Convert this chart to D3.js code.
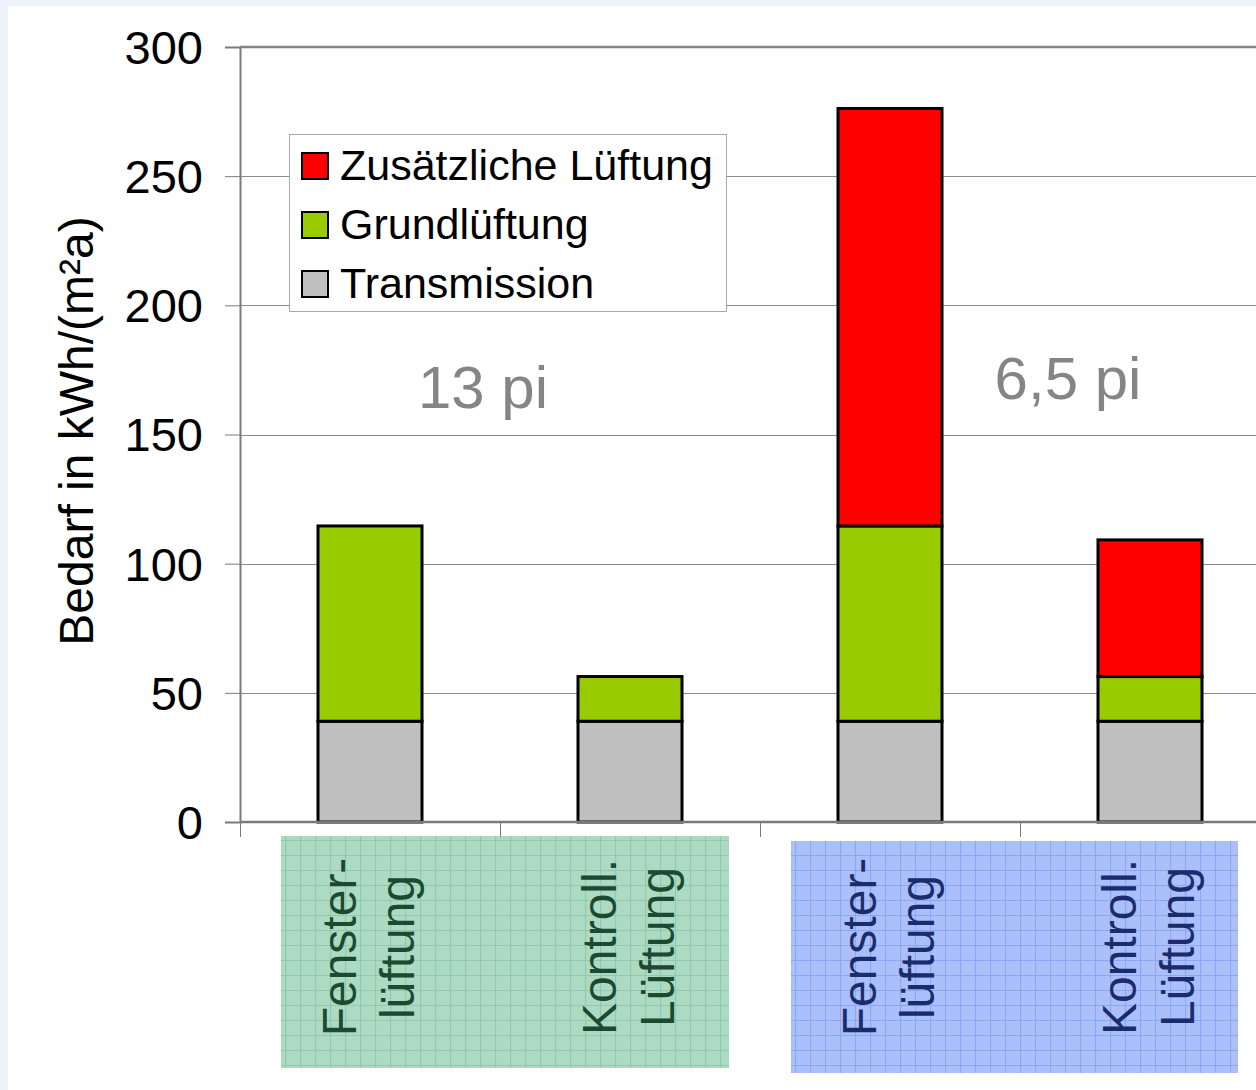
<!DOCTYPE html>
<html>
<head>
<meta charset="utf-8">
<script src="https://cdn.jsdelivr.net/npm/d3@7"></script>
<style>
  html, body { margin: 0; padding: 0; background: #ffffff; }
  svg { display: block; font-family: "Liberation Sans", Arial, sans-serif; }
</style>
</head>
<body>
<svg id="chart" width="1256" height="1090"></svg>
<script>
// Heating demand per case, stacked by component (kWh/(m²a))
const categoryLines = [["Fenster-", "lüftung"], ["Kontroll.", "Lüftung"], ["Fenster-", "lüftung"], ["Kontroll.", "Lüftung"]];
const groupNames = ["13 pi", "6,5 pi"];
const groupOfCategory = [0, 0, 1, 1];
const seriesNames = ["Transmission", "Grundlüftung", "Zusätzliche Lüftung"];
const seriesColors = ["#c0c0c0", "#99cc00", "#ff0000"];
const transmission = [39, 39, 39, 39];
const grundlueftung = [75.6, 17.3, 75.6, 17.3];
const zusaetzlich = [0, 0, 161.6, 52.9];
const yTicks = [0, 50, 100, 150, 200, 250, 300];
const legendOrder = ["Zusätzliche Lüftung", "Grundlüftung", "Transmission"];

const rows = categoryLines.map((c, i) => ({
  idx: i,
  "Transmission": transmission[i],
  "Grundlüftung": grundlueftung[i],
  "Zusätzliche Lüftung": zusaetzlich[i]
}));

const svg = d3.select("#chart");
const W = 1256, H = 1090;

// page background with faint tinted border
svg.append("rect").attr("width", W).attr("height", H).attr("fill", "#eef2fa");
svg.append("rect").attr("x", 8).attr("y", 6).attr("width", W - 8).attr("height", H - 6).attr("fill", "#ffffff");

const plot = { left: 240, top: 47, right: 1280, bottom: 822 };

const x = d3.scaleBand()
  .domain(d3.range(categoryLines.length))
  .range([plot.left, plot.right])
  .paddingInner(0.6)
  .paddingOuter(0.3);

const y = d3.scaleLinear().domain([0, 300]).range([plot.bottom, plot.top]);

const color = d3.scaleOrdinal().domain(seriesNames).range(seriesColors);

// label panels below the axis
const defs = svg.append("defs");
function gridPattern(id, fill, line) {
  const p = defs.append("pattern").attr("id", id)
    .attr("patternUnits", "userSpaceOnUse").attr("width", 15).attr("height", 15);
  p.append("rect").attr("width", 15).attr("height", 15).attr("fill", fill);
  p.append("path").attr("d", "M0.5 0 V15 M0 0.5 H15")
    .attr("stroke", line).attr("stroke-width", 1.2).attr("fill", "none");
}
gridPattern("gridGreen", "#acdac3", "#90c9ad");
gridPattern("gridBlue", "#abc0fb", "#8aa7f5");

const panels = [
  { x0: 281, y0: 836, x1: 729, y1: 1068, fill: "url(#gridGreen)", text: "#1b4a31" },
  { x0: 791, y0: 841, x1: 1238, y1: 1073, fill: "url(#gridBlue)", text: "#1b2c6c" }
];
svg.append("g").selectAll("rect").data(panels).join("rect")
  .attr("x", d => d.x0).attr("y", d => d.y0)
  .attr("width", d => d.x1 - d.x0).attr("height", d => d.y1 - d.y0)
  .attr("fill", d => d.fill);

// gridlines
svg.append("g").selectAll("line").data(yTicks.filter(t => t > 0 && t < 300)).join("line")
  .attr("x1", plot.left).attr("x2", W)
  .attr("y1", d => Math.round(y(d)) + 0.5).attr("y2", d => Math.round(y(d)) + 0.5)
  .attr("stroke", "#8c8c8c").attr("stroke-width", 1);

// plot frame top
svg.append("line").attr("x1", plot.left).attr("x2", W)
  .attr("y1", plot.top).attr("y2", plot.top)
  .attr("stroke", "#858585").attr("stroke-width", 2.5);

// y axis
const yAxis = d3.axisLeft(y).tickValues(yTicks).tickSize(15).tickPadding(22).tickFormat(d3.format("d"));
const gy = svg.append("g").attr("transform", `translate(${plot.left},0)`).call(yAxis);
gy.select(".domain").attr("stroke", "#7a7a7a").attr("stroke-width", 2);
gy.selectAll(".tick line").attr("stroke", "#7a7a7a").attr("stroke-width", 1);
gy.selectAll(".tick text").attr("font-size", 47).attr("fill", "#000")
  .attr("font-family", "'Liberation Sans', Arial, sans-serif").attr("dy", "0.35em");

// y axis title
svg.append("text")
  .attr("transform", `translate(93,431) rotate(-90)`)
  .attr("text-anchor", "middle")
  .attr("font-size", 48).attr("fill", "#000")
  .text("Bedarf in kWh/(m²a)");

// stacked bars
const stack = d3.stack().keys(seriesNames);
const layers = stack(rows);
const barG = svg.append("g");
layers.forEach(layer => {
  barG.append("g").selectAll("rect")
    .data(layer.filter(d => d[1] - d[0] > 0))
    .join("rect")
    .attr("x", d => x(d.data.idx))
    .attr("width", x.bandwidth())
    .attr("y", d => y(d[1]))
    .attr("height", d => y(d[0]) - y(d[1]))
    .attr("fill", color(layer.key))
    .attr("stroke", "#000").attr("stroke-width", 3);
});

// x axis line and category separators
svg.append("line").attr("x1", plot.left).attr("x2", W)
  .attr("y1", plot.bottom).attr("y2", plot.bottom)
  .attr("stroke", "#7a7a7a").attr("stroke-width", 2.5);
const sepX = d3.range(categoryLines.length).map(i => x(i) - x.step() * x.paddingOuter());
svg.append("g").selectAll("line").data(sepX).join("line")
  .attr("x1", d => Math.round(d) + 0.5).attr("x2", d => Math.round(d) + 0.5)
  .attr("y1", plot.bottom).attr("y2", plot.bottom + 15)
  .attr("stroke", "#7a7a7a").attr("stroke-width", 1);

// category labels, rotated, two lines each
const catG = svg.append("g");
categoryLines.forEach((lines, i) => {
  const cx = x(i) + x.bandwidth() / 2;
  const col = panels[groupOfCategory[i]].text;
  const t = catG.append("text")
    .attr("transform", `translate(${cx},947) rotate(-90)`)
    .attr("text-anchor", "middle")
    .attr("font-size", 48).attr("fill", col);
  lines.forEach((ln, j) => {
    t.append("tspan").attr("x", 0).attr("y", (j === 0 ? -14 : 44)).text(ln);
  });
});

// group annotations
const groupLabelPos = [{ cx: 483, base: 408 }, { cx: 1068, base: 399 }];
svg.append("g").selectAll("text").data(groupNames).join("text")
  .attr("x", (d, i) => groupLabelPos[i].cx)
  .attr("y", (d, i) => groupLabelPos[i].base)
  .attr("text-anchor", "middle")
  .attr("font-size", 60).attr("fill", "#858585")
  .text(d => d);

// legend
const lg = svg.append("g").attr("transform", "translate(289,134)");
lg.append("rect").attr("x", 0.5).attr("y", 0.5).attr("width", 437).attr("height", 177)
  .attr("fill", "#fff").attr("stroke", "#a8a8a8").attr("stroke-width", 1);
legendOrder.forEach((name, i) => {
  const row = lg.append("g").attr("transform", `translate(0,${19 + i * 59})`);
  row.append("rect").attr("x", 13).attr("y", 0).attr("width", 26).attr("height", 26)
    .attr("fill", color(name)).attr("stroke", "#000").attr("stroke-width", 2);
  row.append("text").attr("x", 51).attr("y", 27).attr("font-size", 43).attr("fill", "#000").text(name);
});
</script>
</body>
</html>
